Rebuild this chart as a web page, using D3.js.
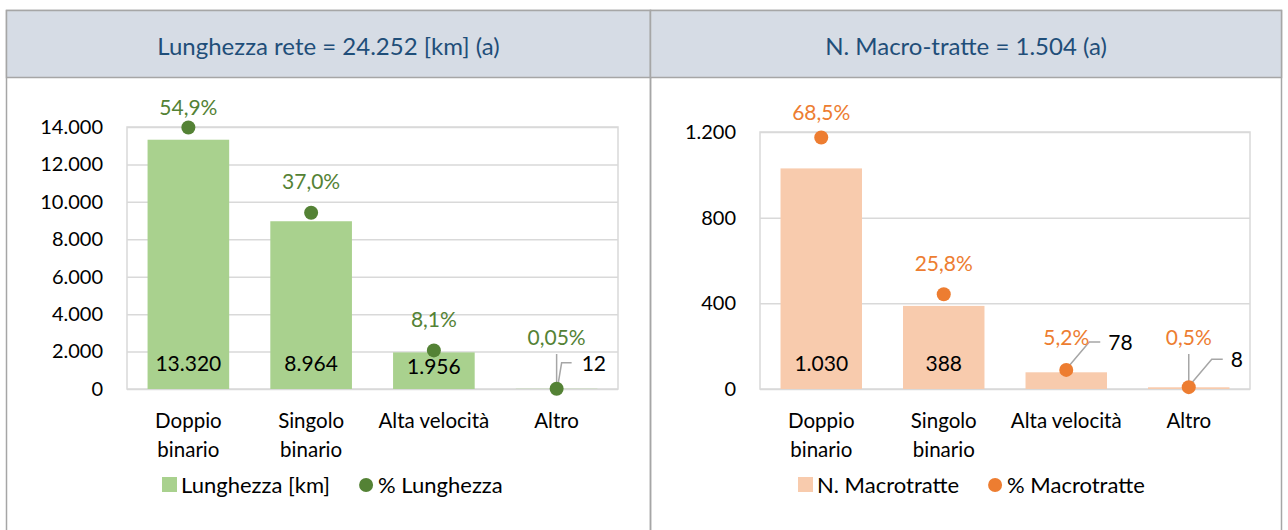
<!DOCTYPE html>
<html>
<head>
<meta charset="utf-8">
<script src="https://cdn.jsdelivr.net/npm/d3@7"></script>
<style>
  body { margin: 0; background: #fff; }
  svg { display: block; font-family: Lato, "Noto Sans", sans-serif; }
</style>
</head>
<body>
<svg id="chart" width="1288" height="530"></svg>
<script>
// data
const titles = ["Lunghezza rete = 24.252 [km] (a)", "N. Macro-tratte = 1.504 (a)"];
const categories = [["Doppio", "binario"], ["Singolo", "binario"], ["Alta velocità"], ["Altro"]];
const lunghezzaKm = [13320, 8964, 1956, 12];
const lunghezzaPct = [54.9, 37.0, 8.1, 0.05];
const macrotratte = [1030, 388, 78, 8];
const macrotrattePct = [68.5, 25.8, 5.2, 0.5];
const lunghezzaTicks = [0, 2000, 4000, 6000, 8000, 10000, 12000, 14000];
const macroTicks = [0, 400, 800, 1200];
const legendLabels = [["Lunghezza [km]", "% Lunghezza"], ["N. Macrotratte", "% Macrotratte"]];

const it = d3.formatLocale({ decimal: ",", thousands: ".", grouping: [3], currency: ["€", ""] });
const fmtNum = it.format(",d");
const fmtPct = v => it.format(v < 0.1 ? ".2f" : ".1f")(v) + "%";

const svg = d3.select("#chart");
const headTop = 10.5, headBottom = 77.5, base = 389;

const panels = [
  { x0: 6.5, x1: 650.5, left: 127, right: 618, top: 127, title: titles[0],
    values: lunghezzaKm, pct: lunghezzaPct, ticks: lunghezzaTicks, yMax: 14000, pctMax: 55,
    bar: "#a9d18e", dot: "#548235", legend: legendLabels[0], legendX: 162, leader: [5, 15, 25, -26] },
  { x0: 650.5, x1: 1281.5, left: 760, right: 1250, top: 132, title: titles[1],
    values: macrotratte, pct: macrotrattePct, ticks: macroTicks, yMax: 1200, pctMax: 70,
    bar: "#f8cbad", dot: "#ed7d31", legend: legendLabels[1], legendX: 798, leader: [23, 34, 42, -28] }
];

panels.forEach(p => {
  const g = svg.append("g");

  // panel frame + header band
  g.append("rect").attr("x", p.x0).attr("y", headTop).attr("width", p.x1 - p.x0).attr("height", 600)
    .attr("fill", "none").attr("stroke", "#a6a6a6").attr("stroke-width", 1.5);
  g.append("rect").attr("x", p.x0).attr("y", headTop).attr("width", p.x1 - p.x0).attr("height", headBottom - headTop)
    .attr("fill", "#d6dce5").attr("stroke", "#a6a6a6").attr("stroke-width", 1.5);
  g.append("text").attr("x", (p.x0 + p.x1) / 2).attr("y", 55)
    .attr("text-anchor", "middle").attr("font-size", 24).attr("fill", "#1f4e79").text(p.title);

  const x = d3.scaleBand().domain(d3.range(categories.length)).range([p.left, p.right])
    .paddingInner(0.335).paddingOuter(0.1675);
  const y = d3.scaleLinear().domain([0, p.yMax]).range([base, p.top]);
  const y2 = d3.scaleLinear().domain([0, p.pctMax]).range([base, p.top]);
  const cx = i => x(i) + x.bandwidth() / 2;

  // gridlines and value axis
  const ya = g.append("g").attr("transform", `translate(${p.left},0)`)
    .call(d3.axisLeft(y).tickValues(p.ticks).tickSize(-(p.right - p.left)).tickPadding(24).tickFormat(fmtNum));
  ya.select(".domain").remove();
  ya.selectAll("line").attr("stroke", "#d9d9d9").attr("stroke-width", 1.5);
  ya.selectAll("text").attr("font-size", 20).attr("fill", "#000").attr("font-family", "Lato, sans-serif");
  g.append("rect").attr("x", p.left).attr("y", p.top).attr("width", p.right - p.left).attr("height", base - p.top)
    .attr("fill", "none").attr("stroke", "#d9d9d9").attr("stroke-width", 1.5);

  // bars
  g.selectAll(".bar").data(p.values).join("rect")
    .attr("x", (d, i) => x(i)).attr("width", x.bandwidth())
    .attr("y", d => y(d)).attr("height", d => base - y(d)).attr("fill", p.bar);

  // category labels
  const xa = g.append("g").attr("transform", `translate(0,${base})`)
    .call(d3.axisBottom(x).tickSize(0).tickFormat(""));
  xa.select(".domain").remove();
  xa.selectAll(".tick").each(function (i) {
    const t = d3.select(this).append("text").attr("fill", "#000").attr("font-size", 20.5)
      .attr("font-family", "Lato, sans-serif").attr("text-anchor", "middle");
    categories[i].forEach((line, k) => t.append("tspan").attr("x", 0).attr("y", 39 + k * 29).text(line));
  });

  // value labels: inside base when the bar is tall enough, otherwise outside with a leader
  const [cDx, eDx, tDx, lDy] = p.leader;
  p.values.forEach((v, i) => {
    const h = base - y(v);
    if (h > 30) {
      const ty = Math.max(base - 26, (y(v) + base) / 2 - 4);
      g.append("text").attr("x", cx(i)).attr("y", ty + 7.5).attr("text-anchor", "middle")
        .attr("font-size", 21).attr("fill", "#000").text(fmtNum(v));
    } else {
      const dy = y2(p.pct[i]);
      const ty = dy + lDy;
      g.append("polyline")
        .attr("points", [[cx(i) + 1, dy - 2], [cx(i) + cDx, ty], [cx(i) + eDx, ty]].map(q => q.join(",")).join(" "))
        .attr("fill", "none").attr("stroke", "#a6a6a6").attr("stroke-width", 1.5);
      g.append("text").attr("x", cx(i) + tDx).attr("y", ty + 8)
        .attr("font-size", 21).attr("fill", "#000").text(fmtNum(v));
    }
  });

  // percent dots + labels
  p.pct.forEach((v, i) => {
    const dy = y2(v);
    const natural = dy - 31;
    const ly = Math.min(Math.max(natural, p.top - 20), base - 52);
    if (natural - ly > 10) {
      g.append("line").attr("x1", cx(i)).attr("x2", cx(i)).attr("y1", ly + 17).attr("y2", dy)
        .attr("stroke", "#a6a6a6").attr("stroke-width", 1.5);
    }
    g.append("text").attr("x", cx(i)).attr("y", ly + 7.5).attr("text-anchor", "middle")
      .attr("font-size", 21).attr("fill", p.dot).text(fmtPct(v));
  });
  g.selectAll(".dot").data(p.pct).join("circle")
    .attr("cx", (d, i) => cx(i)).attr("cy", d => y2(d)).attr("r", 7).attr("fill", p.dot);

  // legend
  const lg = g.append("g").attr("transform", `translate(${p.legendX},485)`);
  lg.append("rect").attr("x", 0).attr("y", -8).attr("width", 15).attr("height", 15).attr("fill", p.bar);
  const t1 = lg.append("text").attr("x", 19).attr("y", 8).attr("font-size", 22).attr("fill", "#000").text(p.legend[0]);
  const w1 = t1.node().getComputedTextLength();
  lg.append("circle").attr("cx", 19 + w1 + 36).attr("cy", 0).attr("r", 7).attr("fill", p.dot);
  lg.append("text").attr("x", 19 + w1 + 48).attr("y", 8).attr("font-size", 22).attr("fill", "#000").text(p.legend[1]);
});
</script>
</body>
</html>
